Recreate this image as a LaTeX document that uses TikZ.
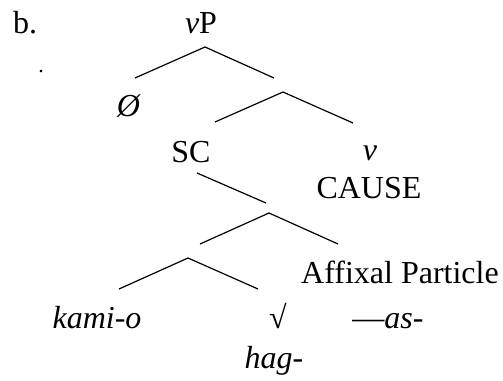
\documentclass[tikz,border=0pt]{standalone}
\usepackage{fontspec}
\setmainfont{Liberation Serif}
\begin{document}
\begin{tikzpicture}[x=1pt,y=-1pt,
  lbl/.style={inner sep=0pt,anchor=base,font=\fontsize{32}{36}\selectfont},
  branch/.style={line width=1.2pt}]
\useasboundingbox (0,0) rectangle (503,380);
% labels
\node[lbl,anchor=base west] (b) at (13,33) {b.};
\node[inner sep=0pt,anchor=base,font=\fontsize{22}{24}\selectfont] (dot) at (41,72) {.};
\node[lbl] (vP) at (201,33) {\textit{v}P};
\node[lbl] (empty) at (129,116) {\textit{Ø}};
\node[lbl] (SC) at (191,162) {SC};
\node[lbl] (v) at (370,160) {\textit{v}};
\node[lbl] (cause) at (369,198) {CAUSE};
\node[lbl] (aff) at (400,283) {Affixal Particle};
\node[lbl] (kami) at (97,328) {\textit{kami-o}};
\node[lbl] (root) at (278,328) {√};
\node[lbl] (as) at (388,328) {—\textit{as}-};
\node[lbl] (hag) at (274,368) {\textit{hag}-};
% branch points
\coordinate (a1) at (205,47);
\coordinate (a1l) at (135,78);
\coordinate (a1r) at (274,78);
\coordinate (a2) at (283,92);
\coordinate (a2l) at (215,122);
\coordinate (a2r) at (353,123);
\coordinate (scs) at (197,173);
\coordinate (sce) at (266,203);
\coordinate (a3) at (269,213);
\coordinate (a3l) at (200,244);
\coordinate (a3r) at (338,244);
\coordinate (a4) at (188,258);
\coordinate (a4l) at (119,289);
\coordinate (a4r) at (258,289);
% branches
\draw[branch] (a1l) -- (a1) -- (a1r);
\draw[branch] (a2l) -- (a2) -- (a2r);
\draw[branch] (scs) -- (sce);
\draw[branch] (a3l) -- (a3) -- (a3r);
\draw[branch] (a4l) -- (a4) -- (a4r);
\end{tikzpicture}
\end{document}
